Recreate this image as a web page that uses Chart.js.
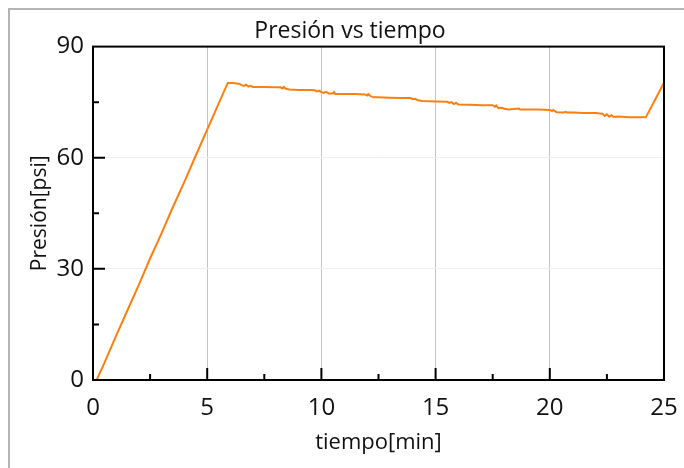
<!doctype html>
<html lang="es">
<head>
<meta charset="utf-8">
<title>Presión vs tiempo</title>
<script src="https://cdn.jsdelivr.net/npm/chart.js@4.4.1/dist/chart.umd.min.js"></script>
<style>
  html, body { margin: 0; padding: 0; background: #fff; }
  .wrap { position: relative; width: 684px; height: 468px; overflow: hidden; }
  .frame { position: absolute; left: 8px; top: 8px; width: 700px; height: 500px;
           border-left: 2px solid #b4b4b4; border-top: 2px solid #b4b4b4; }
  canvas { position: absolute; left: 0; top: 0; }
</style>
</head>
<body>
<div class="wrap">
  <div class="frame"></div>
  <canvas id="grafica" width="684" height="468"></canvas>
</div>
<script>
// tiempo en minutos, presión en psi
const tiempo = [
  0.16, 0.5, 1.0, 1.5, 2.0, 2.5, 3.0, 3.5, 4.0, 4.5, 5.0, 5.5, 5.9,
  6.1, 6.4, 6.5, 6.6, 6.7, 6.8, 6.9, 7.0, 7.5, 8.0, 8.2, 8.3, 8.35, 8.45, 8.6,
  9.0, 9.5, 9.7, 9.8, 9.9, 10.0, 10.1, 10.2, 10.35, 10.5, 10.55, 10.6,
  11.0, 11.5, 11.9, 12.0, 12.05, 12.15, 12.3, 12.5, 13.0, 13.5, 13.9,
  14.0, 14.1, 14.2, 14.4, 15.0, 15.5, 15.6, 15.7, 15.8, 15.9, 16.0, 16.5,
  17.0, 17.5, 17.6, 17.65, 17.75, 17.9, 18.0, 18.2, 18.65, 18.7, 19.0, 19.5,
  20.0, 20.1, 20.15, 20.3, 20.6, 20.7, 20.75, 21.0, 21.5, 22.0, 22.3, 22.4,
  22.5, 22.6, 22.7, 22.8, 23.0, 23.5, 24.0, 24.2, 24.6, 25.0
];
const presion = [
  0, 4.6, 11.8, 18.7, 25.6, 32.8, 39.6, 46.7, 53.5, 60.6, 67.6, 74.6, 80.2,
  80.2, 80.0, 79.6, 79.4, 79.7, 79.2, 79.4, 79.1, 79.1, 79.0, 79.0, 78.7, 79.1, 78.6, 78.4,
  78.3, 78.3, 78.2, 77.9, 78.1, 77.7, 77.5, 77.8, 77.3, 77.4, 77.7, 77.2,
  77.2, 77.2, 77.1, 76.8, 77.2, 76.6, 76.3, 76.3, 76.2, 76.1, 76.1,
  75.8, 75.9, 75.6, 75.3, 75.2, 75.1, 74.8, 75.0, 74.5, 74.8, 74.4, 74.3,
  74.2, 74.2, 73.8, 74.1, 73.4, 73.5, 73.2, 73.0, 73.3, 73.0, 73.0, 73.0,
  72.9, 72.6, 72.9, 72.3, 72.2, 72.4, 72.2, 72.2, 72.1, 72.1, 71.9, 71.3,
  71.7, 71.1, 71.5, 71.0, 71.1, 70.9, 70.9, 70.9, 75.5, 80.3
];
const xTicks = [0, 5, 10, 15, 20, 25];
const yTicks = [0, 30, 60, 90];

const fuente = '"Open Sans", "Noto Sans", sans-serif';

// marco negro y marcas hacia adentro
const marcasInternas = {
  id: 'marcasInternas',
  afterDraw(chart) {
    const { ctx, chartArea: a, scales: { x, y } } = chart;
    ctx.save();
    ctx.strokeStyle = '#000';
    ctx.lineWidth = 2;
    ctx.strokeRect(a.left, a.top, a.right - a.left, a.bottom - a.top);
    ctx.beginPath();
    for (let v = 2.5; v < 25; v += 2.5) {
      const px = x.getPixelForValue(v);
      const len = v % 5 === 0 ? 12 : 6;
      ctx.moveTo(px, a.bottom);
      ctx.lineTo(px, a.bottom - len);
    }
    for (let v = 15; v < 90; v += 15) {
      const py = y.getPixelForValue(v);
      const len = v % 30 === 0 ? 12 : 6;
      ctx.moveTo(a.left, py);
      ctx.lineTo(a.left + len, py);
    }
    ctx.stroke();
    ctx.restore();
  }
};

new Chart(document.getElementById('grafica'), {
  type: 'line',
  data: {
    datasets: [{
      data: tiempo.map((t, i) => ({ x: t, y: presion[i] })),
      borderColor: '#ff7f0e',
      borderWidth: 2,
      pointRadius: 0,
      tension: 0
    }]
  },
  plugins: [marcasInternas],
  options: {
    responsive: false,
    animation: false,
    layout: { padding: { left: 36, right: 20, top: 10, bottom: 8 } },
    plugins: {
      legend: { display: false },
      tooltip: { enabled: false },
      title: {
        display: true,
        text: 'Presión vs tiempo',
        color: '#111',
        font: { family: fuente, size: 23, weight: 'normal' },
        padding: { top: 8, bottom: 1 }
      }
    },
    scales: {
      x: {
        type: 'linear',
        min: 0, max: 25,
        afterBuildTicks: s => { s.ticks = xTicks.map(v => ({ value: v })); },
        afterFit: s => { s.height = 80; s.paddingLeft = 0; s.paddingRight = 0; },
        grid: { color: ctx => (ctx.tick.value === 0 || ctx.tick.value === 25) ? 'rgba(0,0,0,0)' : '#c4c4c4', lineWidth: 1, drawTicks: false },
        border: { display: false },
        ticks: { color: '#111', padding: 14, maxRotation: 0, font: { family: fuente, size: 24 } },
        title: {
          display: true, text: 'tiempo[min]', color: '#111',
          font: { family: fuente, size: 22 }, padding: { top: 0, bottom: 4 }
        }
      },
      y: {
        min: 0, max: 90,
        afterBuildTicks: s => { s.ticks = yTicks.map(v => ({ value: v })); },
        afterFit: s => { s.width = 57; s.paddingTop = 0; s.paddingBottom = 0; },
        grid: { color: '#efefef', lineWidth: 1, drawTicks: false },
        border: { display: false },
        ticks: { color: '#111', padding: 9, font: { family: fuente, size: 24 } },
        title: {
          display: true, text: 'Presión[psi]', color: '#111',
          font: { family: fuente, size: 21 }, padding: { top: -8.6, bottom: 0 }
        }
      }
    }
  }
});
</script>
</body>
</html>
